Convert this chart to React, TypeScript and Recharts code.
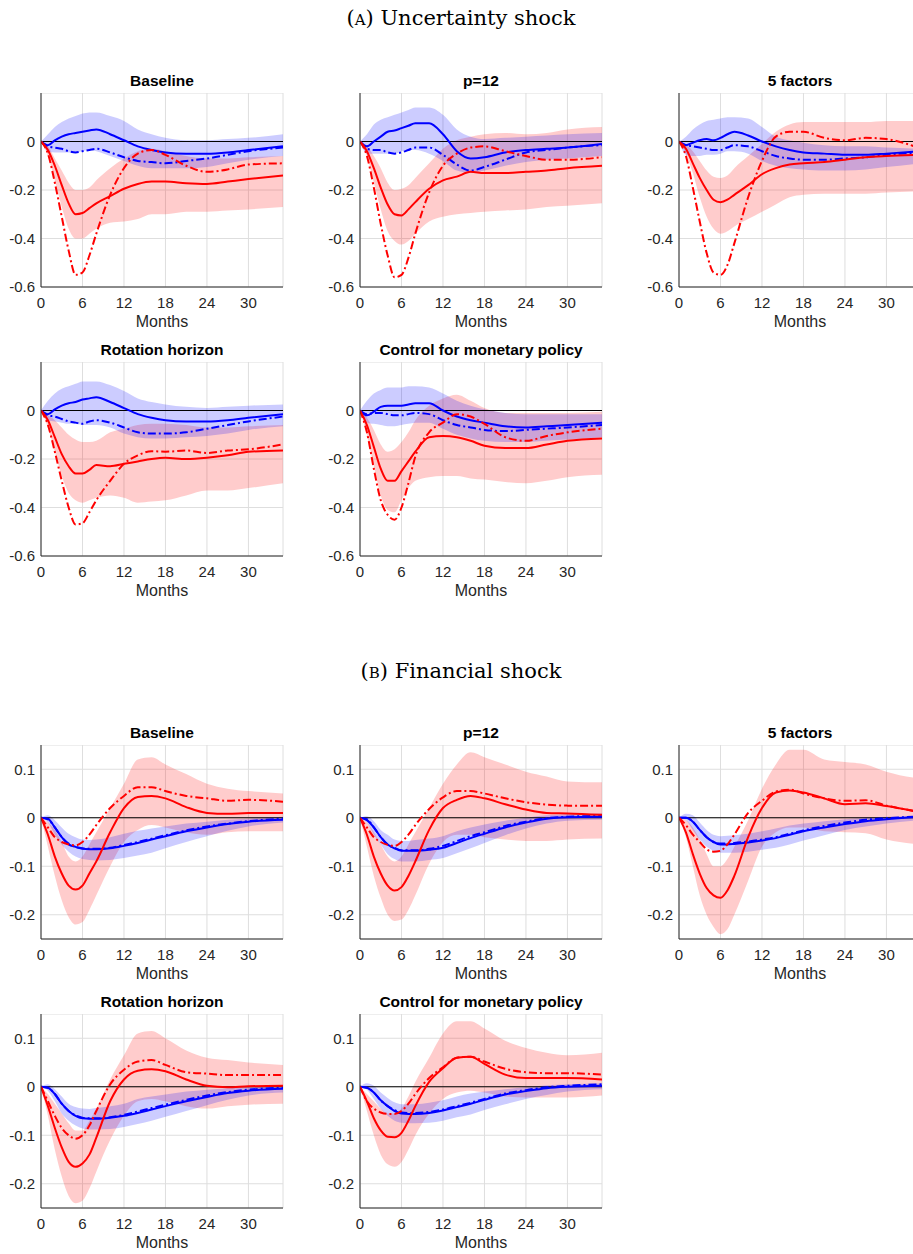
import {
  ComposedChart,
  Area,
  Line,
  XAxis,
  YAxis,
  CartesianGrid,
  ReferenceLine,
} from 'recharts'

// horizons (months) at which the responses were read
const MONTHS = [0, 1, 2, 3, 4, 5, 6, 7, 8, 10, 12, 14, 16, 18, 21, 24, 27, 30, 35]
const MONTH_TICKS = [0, 6, 12, 18, 24, 30]
const UNC_TICKS = [-0.6, -0.4, -0.2, 0]
const FIN_TICKS = [-0.2, -0.1, 0, 0.1]

// (A) uncertainty shock
const UNC_BASE_RED = [0, -0.035, -0.1, -0.18, -0.255, -0.3, -0.295, -0.275, -0.255, -0.225, -0.195, -0.175, -0.165, -0.165, -0.172, -0.175, -0.165, -0.155, -0.14]
const UNC_BASE_RED_ALT = [0, -0.05, -0.17, -0.31, -0.45, -0.55, -0.54, -0.47, -0.38, -0.22, -0.11, -0.05, -0.035, -0.055, -0.1, -0.125, -0.115, -0.095, -0.09]
const UNC_BASE_RED_LO = [0, -0.06, -0.16, -0.27, -0.36, -0.4, -0.4, -0.38, -0.36, -0.335, -0.33, -0.32, -0.3, -0.3, -0.29, -0.29, -0.285, -0.28, -0.27]
const UNC_BASE_RED_HI = [0, -0.02, -0.07, -0.12, -0.17, -0.2, -0.2, -0.19, -0.16, -0.11, -0.07, -0.04, -0.03, -0.04, -0.06, -0.07, -0.07, -0.065, -0.06]
const UNC_BASE_BLUE = [0, -0.015, 0.005, 0.02, 0.03, 0.035, 0.04, 0.045, 0.05, 0.03, 0.005, -0.02, -0.035, -0.045, -0.05, -0.05, -0.045, -0.035, -0.02]
const UNC_BASE_BLUE_ALT = [0, -0.02, -0.025, -0.03, -0.04, -0.045, -0.04, -0.035, -0.03, -0.045, -0.065, -0.08, -0.085, -0.09, -0.08, -0.07, -0.055, -0.04, -0.025]
const UNC_BASE_BLUE_LO = [0, -0.04, -0.045, -0.045, -0.045, -0.045, -0.04, -0.035, -0.04, -0.06, -0.08, -0.1, -0.11, -0.11, -0.11, -0.105, -0.09, -0.075, -0.06]
const UNC_BASE_BLUE_HI = [0, 0.03, 0.06, 0.08, 0.095, 0.105, 0.115, 0.12, 0.12, 0.105, 0.085, 0.05, 0.03, 0.015, 0.005, 0.005, 0.01, 0.015, 0.03]

const UNC_P12_RED = [0, -0.04, -0.11, -0.19, -0.26, -0.3, -0.305, -0.28, -0.25, -0.195, -0.16, -0.145, -0.125, -0.13, -0.13, -0.125, -0.12, -0.11, -0.1]
const UNC_P12_RED_ALT = [0, -0.06, -0.19, -0.34, -0.47, -0.56, -0.55, -0.48, -0.38, -0.21, -0.1, -0.05, -0.025, -0.02, -0.04, -0.06, -0.075, -0.075, -0.065]
const UNC_P12_RED_LO = [0, -0.06, -0.17, -0.28, -0.37, -0.41, -0.425, -0.41, -0.38, -0.33, -0.31, -0.3, -0.295, -0.29, -0.285, -0.28, -0.27, -0.265, -0.255]
const UNC_P12_RED_HI = [0, -0.02, -0.06, -0.11, -0.17, -0.2, -0.195, -0.18, -0.15, -0.09, -0.03, 0.005, 0.02, 0.03, 0.035, 0.03, 0.035, 0.05, 0.06]
const UNC_P12_BLUE = [0, -0.02, 0, 0.02, 0.04, 0.045, 0.055, 0.065, 0.075, 0.075, 0.03, -0.04, -0.07, -0.065, -0.045, -0.035, -0.03, -0.025, -0.01]
const UNC_P12_BLUE_ALT = [0, -0.03, -0.035, -0.035, -0.045, -0.05, -0.045, -0.035, -0.025, -0.025, -0.055, -0.095, -0.12, -0.105, -0.075, -0.045, -0.035, -0.025, -0.015]
const UNC_P12_BLUE_LO = [0, -0.05, -0.05, -0.05, -0.05, -0.05, -0.04, -0.035, -0.035, -0.05, -0.08, -0.12, -0.13, -0.12, -0.1, -0.085, -0.075, -0.07, -0.06]
const UNC_P12_BLUE_HI = [0, 0.03, 0.07, 0.09, 0.1, 0.11, 0.12, 0.13, 0.14, 0.14, 0.11, 0.05, 0.02, 0.01, 0.015, 0.02, 0.025, 0.03, 0.035]

const UNC_F5_RED = [0, -0.03, -0.09, -0.15, -0.2, -0.24, -0.25, -0.24, -0.22, -0.18, -0.135, -0.11, -0.095, -0.09, -0.085, -0.075, -0.065, -0.06, -0.055]
const UNC_F5_RED_ALT = [0, -0.06, -0.19, -0.33, -0.46, -0.54, -0.55, -0.51, -0.42, -0.23, -0.08, 0.02, 0.04, 0.04, 0.015, 0.005, 0.015, 0.01, -0.03]
const UNC_F5_RED_LO = [0, -0.05, -0.13, -0.23, -0.31, -0.36, -0.38, -0.37, -0.35, -0.32, -0.29, -0.26, -0.23, -0.22, -0.215, -0.215, -0.215, -0.21, -0.205]
const UNC_F5_RED_HI = [0, -0.01, -0.04, -0.08, -0.12, -0.145, -0.15, -0.14, -0.11, -0.06, -0.01, 0.04, 0.07, 0.08, 0.08, 0.08, 0.08, 0.085, 0.085]
const UNC_F5_BLUE = [0, -0.015, -0.005, 0.005, 0.01, 0.005, 0.015, 0.03, 0.04, 0.025, 0, -0.02, -0.035, -0.045, -0.05, -0.055, -0.055, -0.05, -0.04]
const UNC_F5_BLUE_ALT = [0, -0.015, -0.02, -0.025, -0.03, -0.035, -0.035, -0.025, -0.015, -0.02, -0.04, -0.06, -0.07, -0.075, -0.075, -0.07, -0.065, -0.055, -0.045]
const UNC_F5_BLUE_LO = [0, -0.055, -0.06, -0.06, -0.055, -0.055, -0.05, -0.04, -0.04, -0.05, -0.08, -0.1, -0.11, -0.115, -0.12, -0.12, -0.115, -0.105, -0.09]
const UNC_F5_BLUE_HI = [0, 0.02, 0.05, 0.07, 0.085, 0.09, 0.095, 0.1, 0.1, 0.095, 0.06, 0.02, 0.005, -0.005, -0.015, -0.02, -0.02, -0.025, -0.03]

const UNC_ROT_RED = [0, -0.04, -0.11, -0.18, -0.23, -0.26, -0.26, -0.245, -0.225, -0.23, -0.22, -0.21, -0.2, -0.195, -0.2, -0.195, -0.185, -0.17, -0.165]
const UNC_ROT_RED_ALT = [0, -0.06, -0.17, -0.29, -0.4, -0.47, -0.465, -0.42, -0.37, -0.29, -0.22, -0.185, -0.168, -0.17, -0.165, -0.175, -0.165, -0.16, -0.14]
const UNC_ROT_RED_LO = [0, -0.07, -0.17, -0.27, -0.34, -0.37, -0.38, -0.37, -0.36, -0.35, -0.36, -0.38, -0.375, -0.37, -0.35, -0.33, -0.33, -0.32, -0.3]
const UNC_ROT_RED_HI = [0, -0.02, -0.04, -0.07, -0.1, -0.12, -0.13, -0.13, -0.125, -0.09, -0.075, -0.06, -0.055, -0.055, -0.06, -0.07, -0.07, -0.065, -0.06]
const UNC_ROT_BLUE = [0, -0.015, 0.005, 0.02, 0.03, 0.035, 0.045, 0.05, 0.055, 0.035, 0.01, -0.015, -0.03, -0.04, -0.045, -0.045, -0.04, -0.03, -0.015]
const UNC_ROT_BLUE_ALT = [0, -0.02, -0.025, -0.035, -0.045, -0.05, -0.055, -0.045, -0.04, -0.05, -0.07, -0.09, -0.095, -0.095, -0.09, -0.075, -0.06, -0.045, -0.025]
const UNC_ROT_BLUE_LO = [0, -0.04, -0.045, -0.05, -0.055, -0.055, -0.06, -0.06, -0.06, -0.07, -0.095, -0.11, -0.115, -0.115, -0.11, -0.105, -0.095, -0.08, -0.065]
const UNC_ROT_BLUE_HI = [0, 0.04, 0.07, 0.09, 0.1, 0.11, 0.12, 0.12, 0.12, 0.105, 0.08, 0.05, 0.035, 0.025, 0.015, 0.01, 0.015, 0.02, 0.025]

const UNC_MP_RED = [0, -0.06, -0.15, -0.24, -0.29, -0.29, -0.25, -0.21, -0.17, -0.11, -0.105, -0.11, -0.125, -0.145, -0.155, -0.155, -0.14, -0.125, -0.115]
const UNC_MP_RED_ALT = [0, -0.09, -0.24, -0.37, -0.43, -0.45, -0.4, -0.3, -0.19, -0.09, -0.05, -0.015, -0.025, -0.055, -0.11, -0.125, -0.105, -0.09, -0.075]
const UNC_MP_RED_LO = [0, -0.1, -0.23, -0.35, -0.41, -0.42, -0.37, -0.32, -0.29, -0.275, -0.27, -0.27, -0.28, -0.285, -0.295, -0.3, -0.29, -0.275, -0.265]
const UNC_MP_RED_HI = [0, -0.03, -0.08, -0.14, -0.17, -0.16, -0.13, -0.09, -0.04, 0.02, 0.05, 0.065, 0.04, 0.01, -0.01, -0.01, -0.01, -0.01, -0.005]
const UNC_MP_BLUE = [0, -0.02, -0.005, 0.015, 0.02, 0.02, 0.02, 0.025, 0.03, 0.03, 0, -0.025, -0.04, -0.05, -0.065, -0.07, -0.065, -0.06, -0.05]
const UNC_MP_BLUE_ALT = [0, -0.015, -0.01, -0.01, -0.015, -0.02, -0.02, -0.015, -0.01, -0.015, -0.04, -0.06, -0.07, -0.08, -0.085, -0.08, -0.075, -0.07, -0.06]
const UNC_MP_BLUE_LO = [0, -0.05, -0.055, -0.06, -0.065, -0.065, -0.06, -0.055, -0.05, -0.05, -0.075, -0.1, -0.115, -0.125, -0.13, -0.13, -0.125, -0.12, -0.11]
const UNC_MP_BLUE_HI = [0, 0.04, 0.07, 0.085, 0.095, 0.095, 0.095, 0.1, 0.1, 0.095, 0.07, 0.04, 0.02, 0.005, -0.01, -0.015, -0.015, -0.015, -0.015]

// (B) financial shock
const FIN_BASE_RED = [0, -0.035, -0.08, -0.115, -0.14, -0.148, -0.14, -0.115, -0.09, -0.03, 0.02, 0.043, 0.045, 0.04, 0.022, 0.01, 0.008, 0.01, 0.01]
const FIN_BASE_RED_ALT = [0, -0.02, -0.04, -0.05, -0.055, -0.057, -0.05, -0.035, -0.015, 0.02, 0.045, 0.063, 0.063, 0.055, 0.045, 0.04, 0.035, 0.037, 0.033]
const FIN_BASE_RED_LO = [0, -0.06, -0.12, -0.17, -0.205, -0.22, -0.215, -0.19, -0.16, -0.1, -0.05, -0.025, -0.015, -0.02, -0.03, -0.035, -0.03, -0.028, -0.028]
const FIN_BASE_RED_HI = [0, -0.01, -0.025, -0.05, -0.08, -0.09, -0.08, -0.055, -0.03, 0.02, 0.07, 0.12, 0.125, 0.11, 0.09, 0.07, 0.06, 0.055, 0.05]
const FIN_BASE_BLUE = [0, -0.002, -0.02, -0.04, -0.055, -0.06, -0.064, -0.065, -0.065, -0.063, -0.058, -0.052, -0.045, -0.038, -0.028, -0.02, -0.013, -0.008, -0.004]
const FIN_BASE_BLUE_ALT = [0, -0.003, -0.02, -0.04, -0.053, -0.06, -0.063, -0.064, -0.064, -0.062, -0.056, -0.05, -0.043, -0.036, -0.026, -0.018, -0.012, -0.007, -0.002]
const FIN_BASE_BLUE_LO = [0, -0.01, -0.035, -0.055, -0.07, -0.08, -0.085, -0.087, -0.088, -0.087, -0.083, -0.078, -0.072, -0.063, -0.05, -0.038, -0.027, -0.018, -0.01]
const FIN_BASE_BLUE_HI = [0, 0.005, -0.005, -0.02, -0.033, -0.04, -0.045, -0.046, -0.045, -0.04, -0.033, -0.027, -0.022, -0.018, -0.012, -0.008, -0.004, -0.002, 0.002]

const FIN_P12_RED = [0, -0.035, -0.08, -0.115, -0.14, -0.15, -0.143, -0.12, -0.09, -0.025, 0.02, 0.037, 0.045, 0.04, 0.028, 0.017, 0.01, 0.009, 0.006]
const FIN_P12_RED_ALT = [0, -0.02, -0.04, -0.05, -0.056, -0.058, -0.05, -0.035, -0.015, 0.018, 0.042, 0.055, 0.055, 0.05, 0.04, 0.032, 0.027, 0.025, 0.025]
const FIN_P12_RED_LO = [0, -0.06, -0.12, -0.165, -0.2, -0.213, -0.21, -0.19, -0.16, -0.095, -0.05, -0.035, -0.035, -0.04, -0.045, -0.048, -0.048, -0.045, -0.043]
const FIN_P12_RED_HI = [0, -0.01, -0.03, -0.055, -0.08, -0.09, -0.08, -0.055, -0.03, 0.02, 0.07, 0.11, 0.135, 0.125, 0.11, 0.095, 0.085, 0.075, 0.073]
const FIN_P12_BLUE = [0, -0.005, -0.02, -0.04, -0.055, -0.063, -0.068, -0.068, -0.068, -0.066, -0.062, -0.052, -0.042, -0.033, -0.02, -0.01, -0.002, 0.001, 0.002]
const FIN_P12_BLUE_ALT = [0, -0.003, -0.02, -0.04, -0.055, -0.062, -0.067, -0.067, -0.067, -0.064, -0.058, -0.048, -0.038, -0.03, -0.017, -0.008, -0.001, 0.002, 0.004]
const FIN_P12_BLUE_LO = [0, -0.01, -0.035, -0.055, -0.075, -0.085, -0.09, -0.09, -0.09, -0.087, -0.083, -0.073, -0.063, -0.052, -0.036, -0.022, -0.012, -0.006, -0.004]
const FIN_P12_BLUE_HI = [0, 0.003, -0.007, -0.025, -0.035, -0.045, -0.048, -0.048, -0.046, -0.043, -0.038, -0.028, -0.02, -0.014, -0.006, 0, 0.005, 0.007, 0.009]

const FIN_F5_RED = [0, -0.03, -0.075, -0.115, -0.145, -0.16, -0.165, -0.15, -0.12, -0.04, 0.02, 0.052, 0.056, 0.052, 0.04, 0.028, 0.03, 0.024, 0.011]
const FIN_F5_RED_ALT = [0, -0.015, -0.035, -0.05, -0.065, -0.07, -0.068, -0.055, -0.035, 0.01, 0.035, 0.054, 0.058, 0.05, 0.04, 0.035, 0.036, 0.025, 0.012]
const FIN_F5_RED_LO = [0, -0.04, -0.1, -0.16, -0.2, -0.225, -0.24, -0.23, -0.2, -0.13, -0.06, -0.03, -0.02, -0.02, -0.028, -0.03, -0.032, -0.045, -0.055]
const FIN_F5_RED_HI = [0, -0.005, -0.02, -0.045, -0.075, -0.1, -0.1, -0.085, -0.06, -0.005, 0.06, 0.11, 0.14, 0.14, 0.12, 0.115, 0.11, 0.095, 0.08]
const FIN_F5_BLUE = [0, 0, -0.008, -0.025, -0.04, -0.05, -0.055, -0.055, -0.054, -0.051, -0.047, -0.042, -0.035, -0.028, -0.02, -0.013, -0.007, -0.003, 0.002]
const FIN_F5_BLUE_ALT = [0, 0, -0.008, -0.025, -0.04, -0.05, -0.053, -0.053, -0.052, -0.049, -0.045, -0.04, -0.033, -0.026, -0.017, -0.01, -0.004, -0.001, 0.003]
const FIN_F5_BLUE_LO = [0, -0.005, -0.025, -0.045, -0.06, -0.068, -0.072, -0.072, -0.072, -0.07, -0.066, -0.062, -0.055, -0.047, -0.036, -0.025, -0.018, -0.012, -0.005]
const FIN_F5_BLUE_HI = [0, 0.008, 0.005, -0.01, -0.025, -0.035, -0.038, -0.037, -0.036, -0.033, -0.028, -0.022, -0.016, -0.012, -0.007, -0.003, 0, 0.002, 0.004]

const FIN_ROT_RED = [0, -0.04, -0.085, -0.125, -0.155, -0.165, -0.158, -0.14, -0.105, -0.03, 0.015, 0.033, 0.036, 0.032, 0.015, 0.002, -0.001, 0.001, 0.002]
const FIN_ROT_RED_ALT = [0, -0.03, -0.06, -0.085, -0.1, -0.107, -0.1, -0.08, -0.05, 0.005, 0.035, 0.052, 0.055, 0.045, 0.03, 0.027, 0.024, 0.024, 0.024]
const FIN_ROT_RED_LO = [0, -0.06, -0.13, -0.185, -0.225, -0.24, -0.235, -0.21, -0.175, -0.11, -0.06, -0.03, -0.025, -0.03, -0.04, -0.045, -0.04, -0.037, -0.035]
const FIN_ROT_RED_HI = [0, -0.015, -0.035, -0.055, -0.075, -0.09, -0.09, -0.07, -0.045, 0.015, 0.065, 0.11, 0.115, 0.1, 0.075, 0.06, 0.055, 0.05, 0.045]
const FIN_ROT_BLUE = [0, -0.002, -0.015, -0.035, -0.05, -0.06, -0.065, -0.066, -0.066, -0.064, -0.06, -0.054, -0.047, -0.04, -0.03, -0.021, -0.013, -0.008, -0.004]
const FIN_ROT_BLUE_ALT = [0, -0.002, -0.015, -0.035, -0.05, -0.059, -0.064, -0.065, -0.065, -0.063, -0.058, -0.051, -0.044, -0.037, -0.027, -0.018, -0.011, -0.006, -0.002]
const FIN_ROT_BLUE_LO = [0, -0.008, -0.03, -0.055, -0.07, -0.08, -0.086, -0.088, -0.088, -0.087, -0.083, -0.077, -0.07, -0.062, -0.05, -0.038, -0.027, -0.018, -0.012]
const FIN_ROT_BLUE_HI = [0, 0.005, -0.005, -0.02, -0.035, -0.042, -0.045, -0.046, -0.044, -0.04, -0.035, -0.025, -0.02, -0.016, -0.01, -0.006, -0.003, -0.001, 0.002]

const FIN_MP_RED = [0, -0.03, -0.065, -0.09, -0.103, -0.104, -0.095, -0.07, -0.04, 0.01, 0.038, 0.06, 0.062, 0.047, 0.025, 0.018, 0.018, 0.018, 0.015]
const FIN_MP_RED_ALT = [0, -0.03, -0.045, -0.053, -0.056, -0.056, -0.05, -0.035, -0.015, 0.018, 0.04, 0.06, 0.062, 0.052, 0.037, 0.03, 0.028, 0.028, 0.025]
const FIN_MP_RED_LO = [0, -0.05, -0.1, -0.14, -0.16, -0.165, -0.155, -0.13, -0.1, -0.055, -0.025, -0.012, -0.008, -0.012, -0.02, -0.022, -0.022, -0.022, -0.018]
const FIN_MP_RED_HI = [0, -0.015, -0.03, -0.045, -0.055, -0.055, -0.045, -0.02, 0.01, 0.06, 0.11, 0.135, 0.135, 0.12, 0.095, 0.08, 0.07, 0.065, 0.07]
const FIN_MP_BLUE = [0, -0.002, -0.012, -0.028, -0.04, -0.05, -0.055, -0.056, -0.056, -0.054, -0.049, -0.042, -0.035, -0.027, -0.016, -0.009, -0.003, 0, 0.002]
const FIN_MP_BLUE_ALT = [0, -0.002, -0.012, -0.028, -0.04, -0.048, -0.053, -0.054, -0.054, -0.052, -0.047, -0.04, -0.033, -0.025, -0.014, -0.007, -0.001, 0.002, 0.005]
const FIN_MP_BLUE_LO = [0, -0.006, -0.025, -0.045, -0.06, -0.07, -0.074, -0.075, -0.075, -0.074, -0.07, -0.063, -0.057, -0.048, -0.036, -0.025, -0.017, -0.01, -0.005]
const FIN_MP_BLUE_HI = [0, 0.007, 0.002, -0.012, -0.023, -0.032, -0.036, -0.036, -0.036, -0.033, -0.028, -0.02, -0.014, -0.01, -0.005, -0.001, 0.003, 0.005, 0.007]

const PLOT_W = 242
const PLOT_H = 194
const Y_AXIS_W = 45
const X_AXIS_H = 45
const COLS = [41, 360, 679]
const FONT = '"Liberation Sans", Arial, Helvetica, sans-serif'
const AXIS_COLOR = '#262626'
const TICK_SIZE = 15
const DASH_DOT = '8 3 2 3'
const LINE_W = 2

type PanelSeries = {
  title: string
  red: number[]
  redAlt: number[]
  redLo: number[]
  redHi: number[]
  blue: number[]
  blueAlt: number[]
  blueLo: number[]
  blueHi: number[]
}

const fmtTick = (v: number) => (v === 0 ? '0' : String(v))

const XTick = (props: any) => (
  <text
    x={props.x}
    y={props.y}
    dy="0.71em"
    textAnchor="middle"
    fill={AXIS_COLOR}
    fontSize={TICK_SIZE}
    fontFamily={FONT}
  >
    {props.payload.value}
  </text>
)

const YTick = (props: any) => (
  <text
    x={props.x}
    y={props.y}
    dy="0.36em"
    textAnchor="end"
    fill={AXIS_COLOR}
    fontSize={TICK_SIZE}
    fontFamily={FONT}
  >
    {fmtTick(props.payload.value)}
  </text>
)

function IrfPanel({
  s,
  left,
  top,
  domain,
  ticks,
}: {
  s: PanelSeries
  left: number
  top: number
  domain: [number, number]
  ticks: number[]
}) {
  const data = MONTHS.map((m, i) => ({
    m,
    red: s.red[i],
    redAlt: s.redAlt[i],
    redBand: [s.redLo[i], s.redHi[i]],
    blue: s.blue[i],
    blueAlt: s.blueAlt[i],
    blueBand: [s.blueLo[i], s.blueHi[i]],
  }))

  return (
    <>
      <div
        style={{
          position: 'absolute',
          left,
          top: top - 21,
          width: PLOT_W,
          textAlign: 'center',
          fontFamily: FONT,
          fontWeight: 'bold',
          fontSize: 15.5,
          lineHeight: '17px',
          color: '#000',
        }}
      >
        {s.title}
      </div>
      <div style={{ position: 'absolute', left: left - Y_AXIS_W, top }}>
        <ComposedChart
          width={Y_AXIS_W + PLOT_W + 5}
          height={PLOT_H + X_AXIS_H}
          data={data}
          margin={{ top: 0, right: 5, bottom: 0, left: 0 }}
        >
          <CartesianGrid stroke="#dedede" strokeWidth={1} />
          <XAxis
            dataKey="m"
            type="number"
            domain={[0, 35]}
            ticks={MONTH_TICKS}
            allowDataOverflow
            height={X_AXIS_H}
            tickLine={false}
            tickSize={6}
            tickMargin={4}
            axisLine={{ stroke: AXIS_COLOR }}
            tick={XTick}
            label={{
              value: 'Months',
              position: 'insideBottom',
              offset: 5,
              fill: AXIS_COLOR,
              fontSize: 16,
              fontFamily: FONT,
            }}
          />
          <YAxis
            type="number"
            domain={domain}
            ticks={ticks}
            interval={0}
            allowDataOverflow
            width={Y_AXIS_W}
            tickLine={false}
            tickSize={4}
            tickMargin={2}
            axisLine={{ stroke: AXIS_COLOR }}
            tick={YTick}
          />
          <Area
            dataKey="redBand"
            type="monotone"
            stroke="none"
            fill="#ff0000"
            fillOpacity={0.2}
            isAnimationActive={false}
            activeDot={false}
          />
          <Area
            dataKey="blueBand"
            type="monotone"
            stroke="none"
            fill="#0000ff"
            fillOpacity={0.2}
            isAnimationActive={false}
            activeDot={false}
          />
          <ReferenceLine y={0} stroke="#000" strokeWidth={1} />
          <Line dataKey="blue" type="monotone" stroke="#0000ff" strokeWidth={LINE_W} dot={false} activeDot={false} isAnimationActive={false} />
          <Line dataKey="blueAlt" type="monotone" stroke="#0000ff" strokeWidth={LINE_W} strokeDasharray={DASH_DOT} dot={false} activeDot={false} isAnimationActive={false} />
          <Line dataKey="red" type="monotone" stroke="#ff0000" strokeWidth={LINE_W} dot={false} activeDot={false} isAnimationActive={false} />
          <Line dataKey="redAlt" type="monotone" stroke="#ff0000" strokeWidth={LINE_W} strokeDasharray={DASH_DOT} dot={false} activeDot={false} isAnimationActive={false} />
        </ComposedChart>
      </div>
    </>
  )
}

const UNC_PANELS: PanelSeries[] = [
  { title: 'Baseline', red: UNC_BASE_RED, redAlt: UNC_BASE_RED_ALT, redLo: UNC_BASE_RED_LO, redHi: UNC_BASE_RED_HI, blue: UNC_BASE_BLUE, blueAlt: UNC_BASE_BLUE_ALT, blueLo: UNC_BASE_BLUE_LO, blueHi: UNC_BASE_BLUE_HI },
  { title: 'p=12', red: UNC_P12_RED, redAlt: UNC_P12_RED_ALT, redLo: UNC_P12_RED_LO, redHi: UNC_P12_RED_HI, blue: UNC_P12_BLUE, blueAlt: UNC_P12_BLUE_ALT, blueLo: UNC_P12_BLUE_LO, blueHi: UNC_P12_BLUE_HI },
  { title: '5 factors', red: UNC_F5_RED, redAlt: UNC_F5_RED_ALT, redLo: UNC_F5_RED_LO, redHi: UNC_F5_RED_HI, blue: UNC_F5_BLUE, blueAlt: UNC_F5_BLUE_ALT, blueLo: UNC_F5_BLUE_LO, blueHi: UNC_F5_BLUE_HI },
  { title: 'Rotation horizon', red: UNC_ROT_RED, redAlt: UNC_ROT_RED_ALT, redLo: UNC_ROT_RED_LO, redHi: UNC_ROT_RED_HI, blue: UNC_ROT_BLUE, blueAlt: UNC_ROT_BLUE_ALT, blueLo: UNC_ROT_BLUE_LO, blueHi: UNC_ROT_BLUE_HI },
  { title: 'Control for monetary policy', red: UNC_MP_RED, redAlt: UNC_MP_RED_ALT, redLo: UNC_MP_RED_LO, redHi: UNC_MP_RED_HI, blue: UNC_MP_BLUE, blueAlt: UNC_MP_BLUE_ALT, blueLo: UNC_MP_BLUE_LO, blueHi: UNC_MP_BLUE_HI },
]

const FIN_PANELS: PanelSeries[] = [
  { title: 'Baseline', red: FIN_BASE_RED, redAlt: FIN_BASE_RED_ALT, redLo: FIN_BASE_RED_LO, redHi: FIN_BASE_RED_HI, blue: FIN_BASE_BLUE, blueAlt: FIN_BASE_BLUE_ALT, blueLo: FIN_BASE_BLUE_LO, blueHi: FIN_BASE_BLUE_HI },
  { title: 'p=12', red: FIN_P12_RED, redAlt: FIN_P12_RED_ALT, redLo: FIN_P12_RED_LO, redHi: FIN_P12_RED_HI, blue: FIN_P12_BLUE, blueAlt: FIN_P12_BLUE_ALT, blueLo: FIN_P12_BLUE_LO, blueHi: FIN_P12_BLUE_HI },
  { title: '5 factors', red: FIN_F5_RED, redAlt: FIN_F5_RED_ALT, redLo: FIN_F5_RED_LO, redHi: FIN_F5_RED_HI, blue: FIN_F5_BLUE, blueAlt: FIN_F5_BLUE_ALT, blueLo: FIN_F5_BLUE_LO, blueHi: FIN_F5_BLUE_HI },
  { title: 'Rotation horizon', red: FIN_ROT_RED, redAlt: FIN_ROT_RED_ALT, redLo: FIN_ROT_RED_LO, redHi: FIN_ROT_RED_HI, blue: FIN_ROT_BLUE, blueAlt: FIN_ROT_BLUE_ALT, blueLo: FIN_ROT_BLUE_LO, blueHi: FIN_ROT_BLUE_HI },
  { title: 'Control for monetary policy', red: FIN_MP_RED, redAlt: FIN_MP_RED_ALT, redLo: FIN_MP_RED_LO, redHi: FIN_MP_RED_HI, blue: FIN_MP_BLUE, blueAlt: FIN_MP_BLUE_ALT, blueLo: FIN_MP_BLUE_LO, blueHi: FIN_MP_BLUE_HI },
]

const UNC_ROWS = [92.5, 361.5]
const FIN_ROWS = [745, 1014]

function SectionTitle({ tag, text, top }: { tag: string; text: string; top: number }) {
  return (
    <div
      style={{
        position: 'absolute',
        left: 0,
        top,
        width: 922,
        textAlign: 'center',
        fontFamily: '"DejaVu Serif", "Liberation Serif", serif',
        fontSize: 21,
        lineHeight: '24px',
        color: '#000',
      }}
    >
      (<span style={{ fontVariant: 'small-caps' }}>{tag}</span>) {text}
    </div>
  )
}

export default function App() {
  return (
    <div
      style={{
        position: 'absolute',
        left: 0,
        top: 0,
        width: 913,
        height: 1254,
        overflow: 'hidden',
        background: '#fff',
      }}
    >
      <SectionTitle tag="a" text="Uncertainty shock" top={6} />
      {UNC_PANELS.map((s, i) => (
        <IrfPanel
          key={'u' + i}
          s={s}
          left={COLS[i % 3]}
          top={UNC_ROWS[Math.floor(i / 3)]}
          domain={[-0.6, 0.2]}
          ticks={UNC_TICKS}
        />
      ))}
      <SectionTitle tag="b" text="Financial shock" top={659} />
      {FIN_PANELS.map((s, i) => (
        <IrfPanel
          key={'f' + i}
          s={s}
          left={COLS[i % 3]}
          top={FIN_ROWS[Math.floor(i / 3)]}
          domain={[-0.25, 0.15]}
          ticks={FIN_TICKS}
        />
      ))}
    </div>
  )
}
